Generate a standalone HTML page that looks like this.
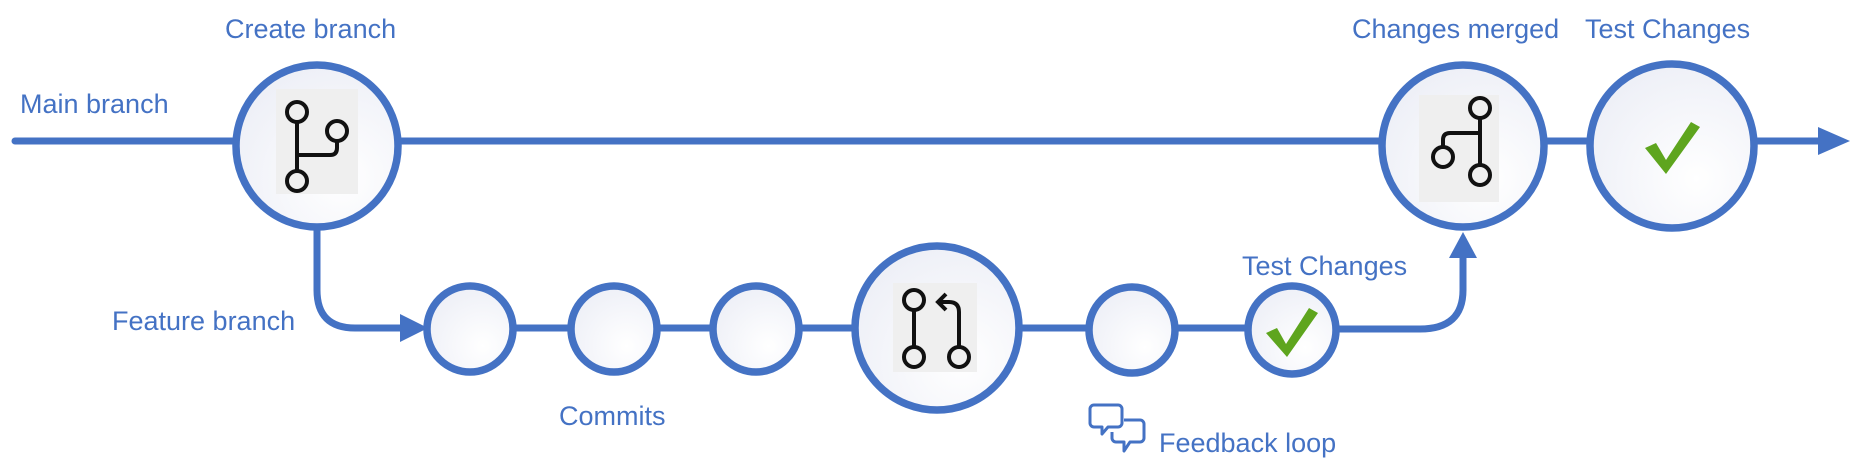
<!DOCTYPE html>
<html><head><meta charset="utf-8"><style>
html,body{margin:0;padding:0;background:#fff;}
svg{display:block}
text{font-family:"Liberation Sans",sans-serif;fill:#4472C4;font-size:27px;}
</style></head><body>
<svg width="1856" height="462" viewBox="0 0 1856 462" xmlns="http://www.w3.org/2000/svg">
<defs>
<radialGradient id="g" cx="0.65" cy="0.7" r="0.8">
<stop offset="0" stop-color="#ffffff"/><stop offset="1" stop-color="#eceef6"/>
</radialGradient>
</defs>
<g stroke="#4472C4" stroke-width="7" fill="none" stroke-linecap="round">
<line x1="15" y1="141" x2="1820" y2="141"/>
<path d="M317 228 L317 290 Q317 328 355 328 L410 328"/>
<line x1="426" y1="328" x2="1250" y2="328"/>
<path d="M1336 329 L1420 329 Q1463 329 1463 290 L1463 255"/>
</g>
<polygon points="1818,127 1850,141 1818,155" fill="#4472C4"/>
<polygon points="400,314 428,328 400,342" fill="#4472C4"/>
<polygon points="1449,258 1463,232 1477,258" fill="#4472C4"/>
<g stroke="#4472C4" stroke-width="7.5" fill="url(#g)">
<circle cx="317" cy="146" r="81"/>
<circle cx="470" cy="329" r="43"/>
<circle cx="614" cy="329" r="43"/>
<circle cx="756" cy="329" r="43"/>
<circle cx="937" cy="328" r="82"/>
<circle cx="1132" cy="330" r="43"/>
<circle cx="1292" cy="330" r="44"/>
<circle cx="1463" cy="146" r="81"/>
<circle cx="1672" cy="146" r="82"/>
</g>
<rect x="276" y="89" width="82" height="105" fill="#efefef"/>
<rect x="893" y="283" width="84" height="89" fill="#efefef"/>
<rect x="1419" y="95" width="80" height="107" fill="#efefef"/>
<g stroke="#111" stroke-width="4" fill="none">
<circle cx="297" cy="112" r="10"/>
<line x1="297" y1="122" x2="297" y2="171"/>
<circle cx="297" cy="181" r="10"/>
<circle cx="337" cy="131" r="10"/>
<path d="M337 141 L337 148 Q337 155 330 155 L297 155"/>
<circle cx="914" cy="300" r="10"/>
<line x1="914" y1="310" x2="914" y2="347"/>
<circle cx="914" cy="357" r="10"/>
<circle cx="959" cy="357" r="10"/>
<path d="M959 347 L959 312 Q959 302 949 302 L938 302"/>
<path d="M946 294 L938 302 L946 310"/>
<circle cx="1480" cy="108" r="10"/>
<line x1="1480" y1="118" x2="1480" y2="165"/>
<circle cx="1480" cy="175" r="10"/>
<circle cx="1443" cy="157" r="10"/>
<path d="M1443 147 L1443 140 Q1443 133 1450 133 L1480 133"/>
</g>
<g fill="#5ea51e">
<path d="M1645 148 L1656 143 L1666 160 L1691 122 L1700 127 L1666 174 Z"/>
<path d="M1266 333 L1277 328 L1286 344 L1309 308 L1318 313 L1287 357 Z"/>
</g>
<g stroke="#4472C4" stroke-width="3" fill="none" stroke-linejoin="round">
<path d="M1094 405 h24 a4 4 0 0 1 4 4 v14 a4 4 0 0 1 -4 4 h-10 l-6 7 v-7 h-8 a4 4 0 0 1 -4 -4 v-14 a4 4 0 0 1 4 -4z"/>
<path d="M1124 420 h16 a4 4 0 0 1 4 4 v14 a4 4 0 0 1 -4 4 h-10 l-6 9 v-9 h-8 a4 4 0 0 1 -4 -4 v-6"/>
</g>
<text x="225" y="38">Create branch</text>
<text x="20" y="113">Main branch</text>
<text x="112" y="330">Feature branch</text>
<text x="559" y="425">Commits</text>
<text x="1242" y="275">Test Changes</text>
<text x="1159" y="452">Feedback loop</text>
<text x="1352" y="38">Changes merged</text>
<text x="1585" y="38">Test Changes</text>
</svg>
</body></html>
